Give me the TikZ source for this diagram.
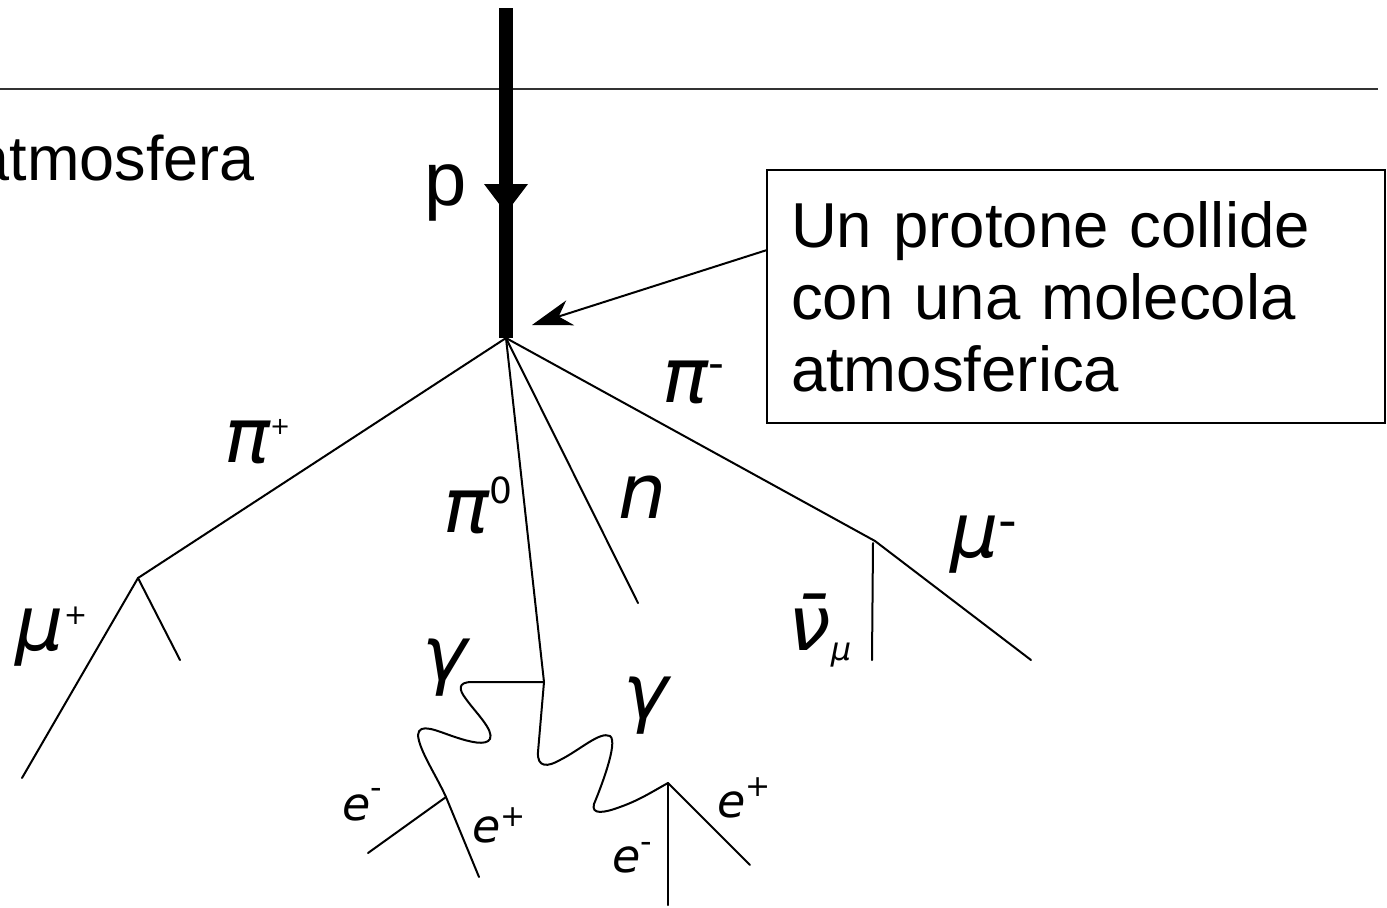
\documentclass[tikz,border=0pt]{standalone}
\usepackage{fontspec}
\setmainfont{Liberation Sans}
\newfontfamily\labfont{DejaVu Sans}
\usetikzlibrary{arrows.meta}
\newcommand\upsc[3]{\raisebox{#1}{\fontsize{#2}{#2}\selectfont\upshape #3}}
\newcommand\dnsc[3]{\raisebox{#1}{\fontsize{#2}{#2}\selectfont #3}}
\tikzset{
  track/.style={line width=1pt, line cap=round, line join=round},
  lab/.style={inner sep=0pt, anchor=base west, font=\labfont\itshape\fontsize{38}{38}\selectfont},
  elab/.style={lab, font=\labfont\itshape\fontsize{23}{23}\selectfont},
  sanslab/.style={inner sep=0pt, font=\fontsize{33}{36}\selectfont},
}
\begin{document}
\begin{tikzpicture}[x=0.5pt,y=-0.5pt]
\useasboundingbox (0,0) rectangle (1387,907);
\clip (0,0) rectangle (1387,907);
% coordinates
\coordinate (hl) at (0,89);
\coordinate (hr) at (1378,89);
\coordinate (ptop) at (506,8);
\coordinate (pv) at (506,338);
\coordinate (vpip) at (138,578);
\coordinate (vpim) at (875,541);
\coordinate (vpz) at (544,682);
\coordinate (nend) at (638,603);
\coordinate (mupend) at (22,778);
\coordinate (nupend) at (180,660);
\coordinate (mumend) at (1031,660);
\coordinate (nubtop) at (873,543);
\coordinate (nubend) at (872,660);
\coordinate (g1e) at (446,797);
\coordinate (e1m) at (368,853);
\coordinate (e1p) at (479,877);
\coordinate (g2e) at (668,783);
\coordinate (e2m) at (668,905);
\coordinate (e2p) at (750,865);
\coordinate (astart) at (767,250);
\coordinate (atip) at (532,325);

% atmosphere boundary
\draw[line width=1pt, black!80] (hl) -- (hr);
\node[sanslab, anchor=base east, font=\fontsize{31.5}{36}\selectfont] (atm) at (255,180) {atmosfera};

% primary proton
\draw[line width=7pt] (ptop) -- (pv);
\fill (484,184) -- (528,184) -- (506,213) -- cycle;
\node[sanslab, anchor=base west, font=\fontsize{38}{38}\selectfont] (lp) at (424,205) {p};

% secondary tracks
\draw[track] (pv) -- (vpip);
\draw[track] (pv) -- (vpz);
\draw[track] (pv) -- (nend);
\draw[track] (pv) -- (vpim);
\draw[track] (vpip) -- (mupend);
\draw[track] (vpip) -- (nupend);
\draw[track] (vpim) -- (mumend);
\draw[track] (nubtop) -- (nubend);

% photons
\draw[track] (vpz) -- (472,682)
  .. controls (457,682) and (459,690) .. (466,699)
  .. controls (476,713) and (494,730) .. (490,739)
  .. controls (486,746) and (470,742) .. (455,737)
  .. controls (437,731) and (419,722) .. (418,735)
  .. controls (419,750) and (436,775) .. (g1e);
\draw[track] (vpz) -- (538,752)
  .. controls (537,768) and (548,767) .. (560,760)
  .. controls (580,750) and (600,731) .. (610,736)
  .. controls (619,742) and (599,792) .. (594,804)
  .. controls (591,815) and (604,813) .. (620,807)
  .. controls (640,800) and (655,790) .. (g2e);
\draw[track] (g1e) -- (e1m);
\draw[track] (g1e) -- (e1p);
\draw[track] (g2e) -- (e2m);
\draw[track] (g2e) -- (e2p);

% box and arrow
\node[draw, line width=1pt, minimum width=309pt, minimum height=126.5pt,
      inner xsep=12pt, inner ysep=0pt, text width=285pt, align=left,
      font=\fontsize{31.75}{36}\selectfont] (box) at (1076,296.5)
      {Un protone collide\\con una molecola\\atmosferica};
\draw[line width=1pt, -{Stealth[length=20pt,width=13pt,inset=6pt]}] (astart) -- (atip);

% labels
\node[lab] (lpip) at (224,462) {π\upsc{13.7pt}{12}{+}};
\node[lab] (lpiz) at (443,532) {π\upsc{14.5pt}{18}{0}};
\node[lab] (ln) at (618,518) {n};
\node[lab] (lpim) at (662,402) {π\upsc{12pt}{22}{-}};
\node[lab] (lmum) at (950,557) {μ\upsc{9.5pt}{26}{-}};
\node[lab] (lmup) at (15,650) {μ\upsc{13pt}{14}{+}};
\node[lab] (lnub) at (788,650) {ν̄\dnsc{-5pt}{16}{μ}};
\node[lab] (lg1) at (422,680) {γ};
\node[lab] (lg2) at (623,718) {γ};
\node[elab] (le1m) at (342,820) {e\upsc{11pt}{16}{-}};
\node[elab] (le1p) at (472,842) {e\upsc{8pt}{15}{+}};
\node[elab] (le2m) at (612,872) {e\upsc{10pt}{16}{-}};
\node[elab] (le2p) at (717,817) {e\upsc{10.5pt}{15}{+}};
\end{tikzpicture}
\end{document}
